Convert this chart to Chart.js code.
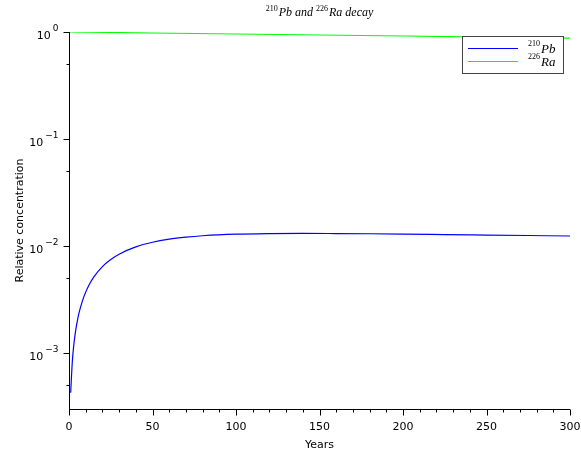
<!DOCTYPE html>
<html lang="en">
<head>
    <meta charset="UTF-8">
    <title>210Pb and 226Ra decay</title>
    <script src="https://cdn.jsdelivr.net/npm/chart.js@4.4.0/dist/chart.umd.min.js"></script>
    <style>
        body{ margin: 0; background: #fff; }
        #wrap{ width: 581px; height: 452px; position: relative; }
    </style>
</head>
<body>
<div id="wrap"><canvas id="miCanvas"></canvas></div>
<script>
    // values
    const pbYears = [1, 2, 3, 4, 5, 6, 8, 10, 12, 15, 20, 25, 30, 40, 50, 60, 70, 80, 100, 120, 140, 160, 180, 200, 225, 250, 275, 300];
    const pbValues = [0.000426, 0.000839, 0.00124, 0.00163, 0.00200, 0.00237, 0.00306, 0.00371, 0.00433, 0.00517, 0.00642, 0.00748, 0.00839, 0.00981, 0.01084, 0.01158, 0.01210, 0.01247, 0.01290, 0.01307, 0.01312, 0.01308, 0.01302, 0.01293, 0.01280, 0.01267, 0.01254, 0.01241];
    const raYears = [0, 50, 100, 150, 200, 250, 300];
    const raValues = [1.0, 0.9786, 0.9576, 0.9371, 0.9171, 0.8974, 0.8782];
    const xTicks = [0, 50, 100, 150, 200, 250, 300];
    const yDecades = [1, 0.1, 0.01, 0.001];
    const yExponents = ['0', '\u22121', '\u22122', '\u22123'];
    const yMinor = [0.5, 0.05, 0.005, 0.0005];

    const sans = '"DejaVu Sans", sans-serif';
    const serif = '"Liberation Serif", "DejaVu Serif", serif';

    const pts = (xs, ys) => xs.map((x, i) => ({x: x, y: ys[i]}));

    // draws axes, tick labels, title and legend the way the original plot does
    const decor = {
        id: 'decor',
        afterDraw(chart){
            const c = chart.ctx;
            const xs = chart.scales.x, ys = chart.scales.y;
            const a = chart.chartArea;
            const L = Math.round(a.left) + 0.5, B = Math.round(a.bottom) + 0.5;
            c.save();
            c.strokeStyle = '#000';
            c.lineWidth = 1;
            c.beginPath();
            c.moveTo(L, a.top); c.lineTo(L, B + 3);
            c.moveTo(L, B); c.lineTo(a.right, B);
            // y ticks
            yDecades.forEach(v => {
                const y = Math.round(ys.getPixelForValue(v)) + 0.5;
                c.moveTo(L - 6, y); c.lineTo(L, y);
            });
            yMinor.forEach(v => {
                const y = Math.round(ys.getPixelForValue(v)) + 0.5;
                c.moveTo(L - 3, y); c.lineTo(L, y);
            });
            // x ticks
            for(let v = 0; v <= 300; v += 10){
                const x = Math.round(xs.getPixelForValue(v)) + 0.5;
                c.moveTo(x, B); c.lineTo(x, B + (v % 50 === 0 ? 6 : 3));
            }
            c.stroke();

            c.fillStyle = '#000';
            c.font = '11px ' + sans;
            c.textBaseline = 'middle';
            c.textAlign = 'center';
            xTicks.forEach(v => c.fillText(String(v), xs.getPixelForValue(v), B + 18));
            c.fillText('Years', (a.left + a.right) / 2, B + 36);

            yDecades.forEach((v, i) => {
                const y = ys.getPixelForValue(v);
                c.font = '9px ' + sans;
                const sw = c.measureText(yExponents[i]).width;
                c.textAlign = 'right';
                c.textBaseline = 'alphabetic';
                c.fillText(yExponents[i], L - 11, y - 1.5);
                c.font = '11px ' + sans;
                c.fillText('10', L - 13 - sw, y + 7);
            });

            c.save();
            c.translate(20, (a.top + a.bottom) / 2);
            c.rotate(-Math.PI / 2);
            c.textAlign = 'center';
            c.textBaseline = 'middle';
            c.font = '11px ' + sans;
            c.fillText('Relative concentration', 0, 0);
            c.restore();

            // title with superscripts
            const title = [['210', true], ['Pb and ', false], ['226', true], ['Ra decay', false]];
            const fBig = 'italic 12px ' + serif, fSup = '8px ' + serif;
            let tw = 0;
            title.forEach(p => { c.font = p[1] ? fSup : fBig; tw += c.measureText(p[0]).width + (p[1] ? 1 : 0); });
            let tx = (a.left + a.right) / 2 - tw / 2;
            c.textAlign = 'left';
            c.textBaseline = 'alphabetic';
            title.forEach(p => {
                c.font = p[1] ? fSup : fBig;
                c.fillText(p[0], tx, p[1] ? 11 : 16);
                tx += c.measureText(p[0]).width + (p[1] ? 1 : 0);
            });

            // legend
            c.fillStyle = '#fff';
            c.fillRect(462.5, 36.5, 101, 37);
            c.strokeStyle = '#444';
            c.strokeRect(462.5, 36.5, 101, 37);
            const items = [['210', 'Pb', '#0000ff', 48.5], ['226', 'Ra', '#00ff00', 61.5]];
            items.forEach(it => {
                c.strokeStyle = it[2];
                c.beginPath(); c.moveTo(468, it[3]); c.lineTo(518, it[3]); c.stroke();
                c.fillStyle = '#000';
                c.font = fSup;
                c.fillText(it[0], 528, it[3] - 3);
                const w = c.measureText(it[0]).width;
                c.font = 'italic 13px ' + serif;
                c.fillText(it[1], 529 + w, it[3] + 4);
            });
            c.restore();
        }
    };

    new Chart(document.getElementById('miCanvas'), {
        type: 'line',
        data: {
            datasets: [
                {
                    label: '210Pb',
                    data: pts(pbYears, pbValues),
                    borderColor: '#0000ff',
                    borderWidth: 1.2,
                    pointRadius: 0,
                    cubicInterpolationMode: 'monotone'
                },
                {
                    label: '226Ra',
                    data: pts(raYears, raValues),
                    borderColor: '#00ff00',
                    borderWidth: 1.2,
                    pointRadius: 0
                }
            ]
        },
        options: {
            responsive: true,
            maintainAspectRatio: false,
            animation: false,
            layout: { padding: { left: 69, top: 32, right: 11, bottom: 43 } },
            plugins: { legend: { display: false }, tooltip: { enabled: false } },
            scales: {
                x: { type: 'linear', min: 0, max: 300, display: false },
                y: { type: 'logarithmic', min: 0.000316, max: 1, display: false }
            }
        },
        plugins: [decor]
    });
</script>
</body>
</html>
